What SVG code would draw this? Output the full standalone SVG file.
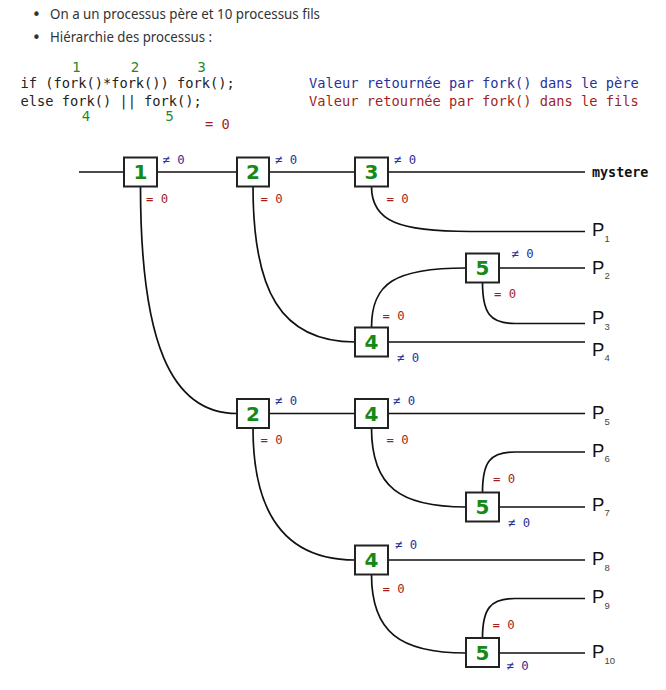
<svg xmlns="http://www.w3.org/2000/svg" width="666" height="690" viewBox="0 0 666 690">
<style>
.bul{font-family:"Noto Sans","Open Sans",sans-serif;font-size:13.5px;fill:#333}
.dot{font-family:"DejaVu Sans",sans-serif;font-size:15px;fill:#333}
.code{font-family:"DejaVu Sans Mono",monospace;font-size:13.7px;fill:#222}
.blue{fill:#2a3199}
.red{fill:#a11f1f}
.gnum{font-family:"DejaVu Sans",sans-serif;font-size:13.5px;fill:#23882a;text-anchor:middle}
.lbl{font-family:"DejaVu Sans Mono",monospace;font-size:12.3px}
.box rect{fill:#fff;stroke:#222;stroke-width:2}
.box text{font-family:"DejaVu Sans",sans-serif;font-weight:bold;font-size:20px;fill:#168a16;text-anchor:middle}
.conn path{fill:none;stroke:#111;stroke-width:1.7}
.p{font-family:"Liberation Sans",sans-serif;font-size:18.5px;fill:#111}
.sub{font-family:"Liberation Sans",sans-serif;font-size:9.5px;fill:#444}
.mys{font-family:"DejaVu Sans Mono",monospace;font-weight:bold;font-size:13.4px;fill:#111}
</style>
<g id="header">
<text x="32" y="20" class="dot">•</text>
<text x="50" y="19" class="bul" textLength="270" lengthAdjust="spacingAndGlyphs">On a un processus père et 10 processus fils</text>
<text x="32" y="42.5" class="dot">•</text>
<text x="50" y="41.5" class="bul" textLength="162" lengthAdjust="spacingAndGlyphs">Hiérarchie des processus :</text>
<text x="76.5" y="72" class="gnum">1</text>
<text x="135" y="72" class="gnum">2</text>
<text x="201.5" y="72" class="gnum">3</text>
<text x="20.5" y="88" class="code">if (fork()*fork()) fork();</text>
<text x="20.5" y="105.5" class="code">else fork() || fork();</text>
<text x="86" y="121" class="gnum">4</text>
<text x="169.5" y="121" class="gnum">5</text>
<text x="205" y="129" class="code red">= 0</text>
<text x="309" y="88" class="code blue">Valeur retournée par fork() dans le père</text>
<text x="309" y="105.5" class="code red">Valeur retournée par fork() dans le fils</text>
</g>
<g id="connectors" class="conn">
<path d="M79,172 H585"/>
<path d="M140.5,186.5 C140.5,340 170,413.5 237,413.5"/>
<path d="M253,413.5 H585"/>
<path d="M253,186.5 C253,290 280,342 355,342 H585"/>
<path d="M371.5,186.5 C371.5,222 400,231.5 470,231.5 H585"/>
<path d="M371.5,327.5 C371.5,283 395,268 466,268 H585"/>
<path d="M482.5,282.5 C482.5,313 490,323.5 515,323.5 H585"/>
<path d="M253,428 C253,520 290,560 355,560 H585"/>
<path d="M371.5,428 C371.5,487 400,507 466,507 H585"/>
<path d="M482.5,492.5 C482.5,462 490,452 515,452 H585"/>
<path d="M371.5,574.5 C371.5,632 400,653 466,653 H585"/>
<path d="M482.5,638 C482.5,609 490,598.5 515,598.5 H585"/>
</g>
<g id="n1" class="box"><rect x="124" y="157.5" width="33" height="29"/><text x="140.5" y="179">1</text></g>
<g id="n2a" class="box"><rect x="237" y="157.5" width="32" height="29"/><text x="253" y="179">2</text></g>
<g id="n3" class="box"><rect x="355" y="157.5" width="33" height="29"/><text x="371.5" y="179">3</text></g>
<g id="n5a" class="box"><rect x="466" y="253.5" width="33" height="29"/><text x="482.5" y="275">5</text></g>
<g id="n4a" class="box"><rect x="355" y="327.5" width="33" height="29"/><text x="371.5" y="349">4</text></g>
<g id="n2b" class="box"><rect x="237" y="399" width="32" height="29"/><text x="253" y="420.5">2</text></g>
<g id="n4b" class="box"><rect x="355" y="399" width="33" height="29"/><text x="371.5" y="420.5">4</text></g>
<g id="n5b" class="box"><rect x="466" y="492.5" width="33" height="29"/><text x="482.5" y="514">5</text></g>
<g id="n4c" class="box"><rect x="355" y="545.5" width="33" height="29"/><text x="371.5" y="567">4</text></g>
<g id="n5c" class="box"><rect x="466" y="638" width="33" height="29"/><text x="482.5" y="659.5">5</text></g>
<g id="labels">
<text x="162.5" y="164" class="lbl blue">≠ 0</text>
<text x="146" y="203" class="lbl red">= 0</text>
<text x="275" y="164" class="lbl blue">≠ 0</text>
<text x="260.5" y="203" class="lbl red">= 0</text>
<text x="394" y="164" class="lbl blue">≠ 0</text>
<text x="386.5" y="203" class="lbl red">= 0</text>
<text x="511.5" y="257.5" class="lbl blue">≠ 0</text>
<text x="494" y="298" class="lbl red">= 0</text>
<text x="382.5" y="320" class="lbl red">= 0</text>
<text x="397" y="362" class="lbl blue">≠ 0</text>
<text x="275" y="405" class="lbl blue">≠ 0</text>
<text x="260.5" y="444" class="lbl red">= 0</text>
<text x="393" y="405" class="lbl blue">≠ 0</text>
<text x="386.5" y="444" class="lbl red">= 0</text>
<text x="493" y="483" class="lbl red">= 0</text>
<text x="508" y="527" class="lbl blue">≠ 0</text>
<text x="395" y="549" class="lbl blue">≠ 0</text>
<text x="382.5" y="593" class="lbl red">= 0</text>
<text x="492.5" y="629" class="lbl red">= 0</text>
<text x="506.5" y="670" class="lbl blue">≠ 0</text>
</g>
<g id="outputs">
<text x="592" y="176.5" class="mys">mystere</text>
<text x="592" y="236" class="p">P</text><text x="604.5" y="241.5" class="sub">1</text>
<text x="592" y="273.5" class="p">P</text><text x="604.5" y="279" class="sub">2</text>
<text x="592" y="324" class="p">P</text><text x="604.5" y="329.5" class="sub">3</text>
<text x="592" y="356" class="p">P</text><text x="604.5" y="361" class="sub">4</text>
<text x="592" y="419" class="p">P</text><text x="604.5" y="424.5" class="sub">5</text>
<text x="592" y="456.5" class="p">P</text><text x="604.5" y="462" class="sub">6</text>
<text x="592" y="510.5" class="p">P</text><text x="604.5" y="516" class="sub">7</text>
<text x="592" y="565" class="p">P</text><text x="604.5" y="570.5" class="sub">8</text>
<text x="592" y="603" class="p">P</text><text x="604.5" y="608.5" class="sub">9</text>
<text x="592" y="658" class="p">P</text><text x="604.5" y="663.5" class="sub">10</text>
</g>
</svg>
